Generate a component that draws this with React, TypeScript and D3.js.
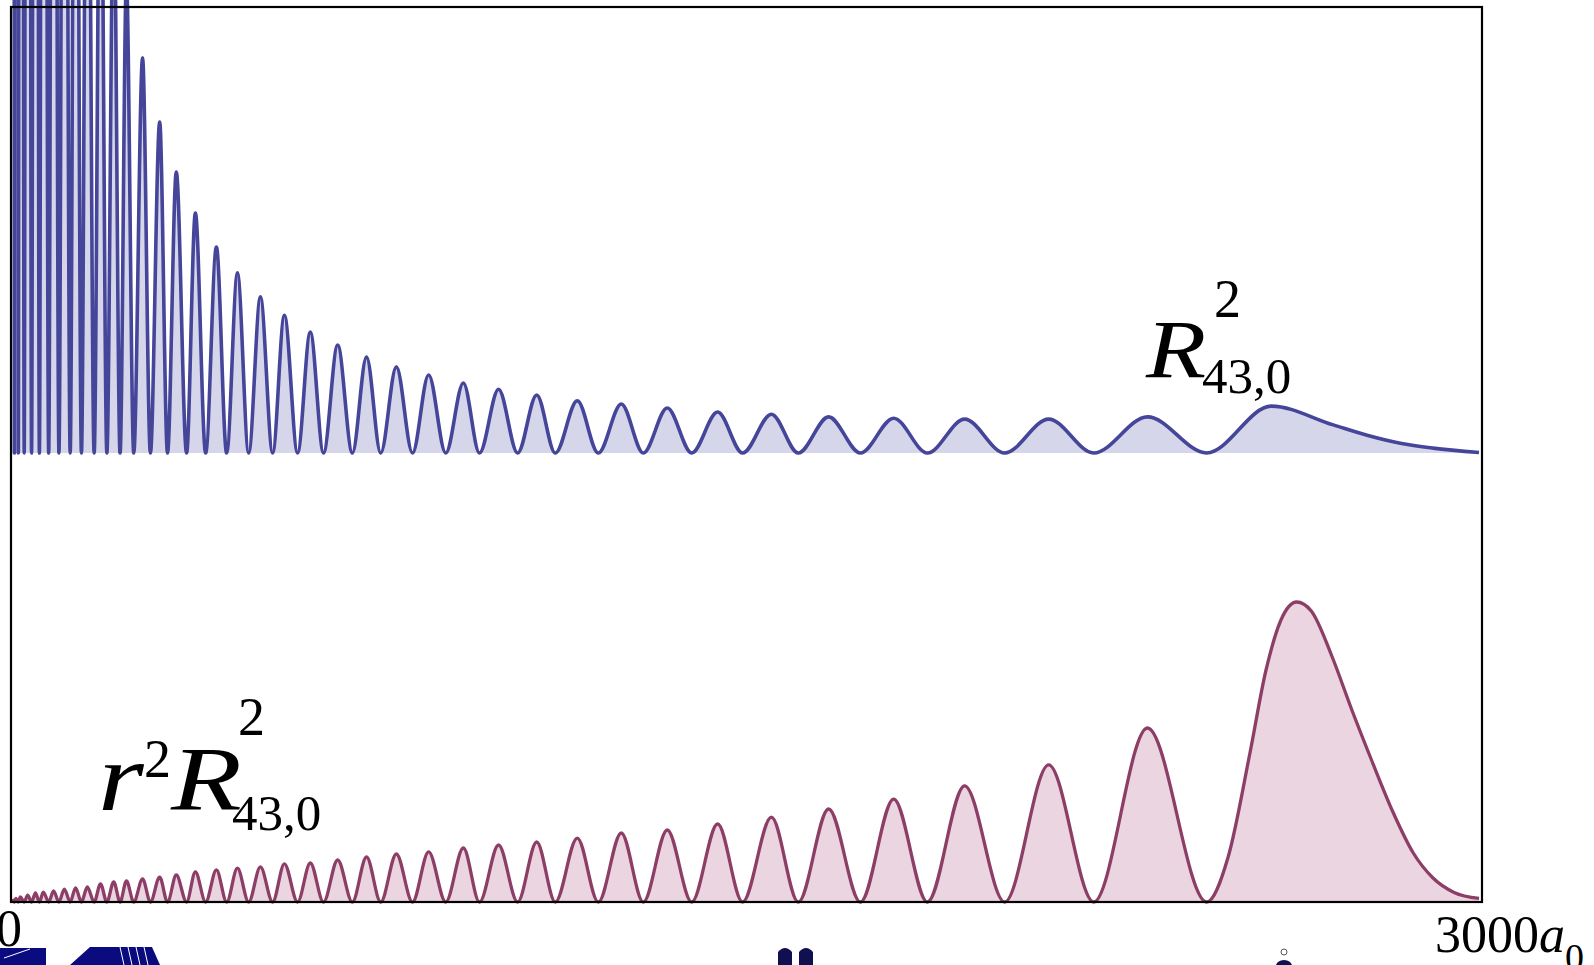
import React, { useEffect, useRef } from 'react';
import * as d3 from 'd3';

// radii (units of a0) of the zeros of R_{43,0}
const nodeR = [5, 13, 25, 40, 56, 75, 96, 119, 142, 168, 194, 221, 249, 283, 318, 357, 396, 439, 484, 533, 584, 637, 696, 754, 819, 887, 956, 1034, 1111, 1199, 1291, 1390, 1494, 1608, 1735, 1872, 2030, 2212, 2443];

// R^2 : one lobe before each node (arbitrary units, top panel)
const densityLobeR = [0, 8, 17, 32, 48, 64, 85, 107, 130, 154, 181, 208, 234, 267, 302, 336, 375, 418, 461, 508, 557, 610, 666, 725, 786, 852, 923, 995, 1073, 1156, 1246, 1340, 1443, 1553, 1670, 1803, 1948, 2120, 2322];
const densityLobe = [400, 200, 130, 90, 66, 50, 38, 30, 24, 19.2, 15.6, 12.8, 10.6, 8.86, 7.42, 6.3, 5.38, 4.62, 4.04, 3.5, 3.09, 2.71, 2.42, 2.15, 1.93, 1.75, 1.57, 1.43, 1.3, 1.17, 1.1, 1.01, 0.92, 0.87, 0.81, 0.78, 0.76, 0.76, 0.81];
// outermost lobe and its tail
const densityOuterR = [2575, 2702, 2771, 2839, 2906, 3000];
const densityOuter = [1.05, 0.63, 0.4, 0.22, 0.11, 0.01];

// r^2 R^2 : one lobe before each node (fraction of the biggest lobe)
const radialLobeR = [3, 8, 17, 32, 48, 64, 85, 107, 130, 154, 181, 208, 234, 267, 302, 336, 375, 418, 461, 508, 557, 610, 666, 725, 786, 852, 923, 995, 1073, 1156, 1246, 1340, 1443, 1553, 1670, 1803, 1948, 2120, 2322];
const radialLobe = [0.006, 0.012, 0.017, 0.023, 0.03, 0.033, 0.037, 0.043, 0.047, 0.05, 0.06, 0.067, 0.07, 0.077, 0.083, 0.09, 0.1, 0.107, 0.113, 0.117, 0.127, 0.13, 0.14, 0.15, 0.16, 0.167, 0.18, 0.19, 0.2, 0.213, 0.23, 0.24, 0.26, 0.283, 0.31, 0.343, 0.387, 0.457, 0.58];
const radialOuterR = [2487, 2532, 2564, 2595, 2627, 2657, 2699, 2740, 2781, 2824, 2865, 2906, 2949, 3000];
const radialOuter = [0.15, 0.5, 0.77, 0.94, 1.0, 0.97, 0.82, 0.64, 0.47, 0.3, 0.165, 0.08, 0.032, 0.012];

const xDomain = [0, 3000];
const xTickLabels = ['0', '3000'];

function buildPoints(lobeR: number[], lobeV: number[], outerR: number[], outerV: number[], fromOrigin: boolean) {
  const pts: [number, number][] = [];
  if (fromOrigin) pts.push([xDomain[0], 0]);
  lobeR.forEach((r, i) => {
    pts.push([r, lobeV[i]]);
    pts.push([nodeR[i], 0]);
  });
  outerR.forEach((r, i) => pts.push([r, outerV[i]]));
  return pts;
}

const W = 1594;
const H = 965;
const serif = '"Liberation Serif", "Times New Roman", serif';

type Part = { t: string; dx: number; dy: number; size: number; italic?: boolean; sx?: number };

export default function App() {
  const svgRef = useRef<SVGSVGElement>(null);

  useEffect(() => {
    if (!svgRef.current) return;
    const svg = d3.select(svgRef.current);
    svg.selectAll('*').remove();

    const frame = { left: 11, right: 1482, top: 7, bottom: 902 };
    const x = d3.scaleLinear().domain(xDomain).range([12, 1479]);
    const yTop = d3.scaleLinear().domain([0, 10]).range([453, 7]);
    const yBottom = d3.scaleLinear().domain([0, 1.5]).range([902, 452]);

    const density = buildPoints(densityLobeR, densityLobe, densityOuterR, densityOuter, false);
    const radial = buildPoints(radialLobeR, radialLobe, radialOuterR, radialOuter, true);

    const drawCurve = (pts: [number, number][], y: d3.ScaleLinear<number, number>, stroke: string, fill: string, sw: number) => {
      const area = d3.area<[number, number]>()
        .x((d) => x(d[0]))
        .y0(y(0))
        .y1((d) => y(d[1]))
        .curve(d3.curveMonotoneX);
      const line = d3.line<[number, number]>()
        .x((d) => x(d[0]))
        .y((d) => y(d[1]))
        .curve(d3.curveMonotoneX);
      svg.append('path').attr('d', area(pts)).attr('fill', fill);
      svg.append('path').attr('d', line(pts)).attr('fill', 'none')
        .attr('stroke', stroke).attr('stroke-width', sw).attr('stroke-linejoin', 'round');
    };

    drawCurve(density, yTop, '#45459a', '#d6d6ea', 3.6);
    drawCurve(radial, yBottom, '#8c3e66', '#ebd5e0', 3.3);

    // frame
    svg.append('rect')
      .attr('x', frame.left).attr('y', frame.top)
      .attr('width', frame.right - frame.left).attr('height', frame.bottom - frame.top)
      .attr('fill', 'none').attr('stroke', '#000').attr('stroke-width', 2.2);

    // end labels of the r axis
    svg.append('text').attr('x', x(xDomain[0]) - 3).attr('y', 946)
      .attr('text-anchor', 'middle').attr('font-family', serif).attr('font-size', 52)
      .text(xTickLabels[0]);
    const endLabel = svg.append('text').attr('x', x(xDomain[1]) - 44).attr('y', 952)
      .attr('font-family', serif).attr('font-size', 52);
    endLabel.append('tspan').text(xTickLabels[1]);
    endLabel.append('tspan').attr('font-style', 'italic').text('a');
    endLabel.append('tspan').attr('font-size', 38).attr('dy', 18).text('0');

    // curve labels
    const label = (xs: number, base: number, parts: Part[]) => {
      parts.forEach((p) => {
        svg.append('text')
          .attr('transform', `translate(${xs + p.dx},${base + p.dy}) scale(${p.sx ?? 1},1)`)
          .attr('font-family', serif).attr('font-size', p.size)
          .attr('font-style', p.italic ? 'italic' : 'normal')
          .text(p.t);
      });
    };
    label(1146, 377, [
      { t: 'R', dx: 0, dy: 0, size: 82, italic: true, sx: 1.2 },
      { t: '2', dx: 68, dy: -60, size: 54 },
      { t: '43,0', dx: 56, dy: 16, size: 51 },
    ]);
    label(98, 810, [
      { t: 'r', dx: 0, dy: 0, size: 98, italic: true, sx: 1.2 },
      { t: '2', dx: 46, dy: -33, size: 54 },
      { t: 'R', dx: 73, dy: 0, size: 92, italic: true, sx: 1.26 },
      { t: '2', dx: 140, dy: -75, size: 54 },
      { t: '43,0', dx: 134, dy: 20, size: 51 },
    ]);

    // clipped fragments of neighbouring images along the bottom edge
    const navy = '#0b0b80';
    svg.append('rect').attr('x', 0).attr('y', 948).attr('width', 46).attr('height', 17).attr('fill', navy);
    svg.append('line').attr('x1', 4).attr('y1', 958).attr('x2', 30).attr('y2', 949).attr('stroke', '#fff').attr('stroke-width', 1);
    svg.append('path').attr('d', 'M70,965 L90,947 L152,947 L160,965 Z').attr('fill', navy);
    [120, 128, 136, 144].forEach((gx) => {
      svg.append('line').attr('x1', gx).attr('y1', 947).attr('x2', gx + 4).attr('y2', 965)
        .attr('stroke', '#fff').attr('stroke-width', 1);
    });
    [778, 799].forEach((bx) => {
      svg.append('path').attr('d', `M${bx},965 L${bx},952 Q${bx + 7},944 ${bx + 14},952 L${bx + 14},965 Z`).attr('fill', '#101050');
    });
    svg.append('circle').attr('cx', 1284).attr('cy', 952).attr('r', 3).attr('fill', 'none').attr('stroke', '#555').attr('stroke-width', 1);
    svg.append('ellipse').attr('cx', 1284).attr('cy', 966).attr('rx', 8).attr('ry', 6).attr('fill', '#101050');
  }, []);

  return (
    <svg
      ref={svgRef}
      width={W}
      height={H}
      style={{ position: 'absolute', left: 0, top: 0, background: '#fff', display: 'block' }}
    />
  );
}
